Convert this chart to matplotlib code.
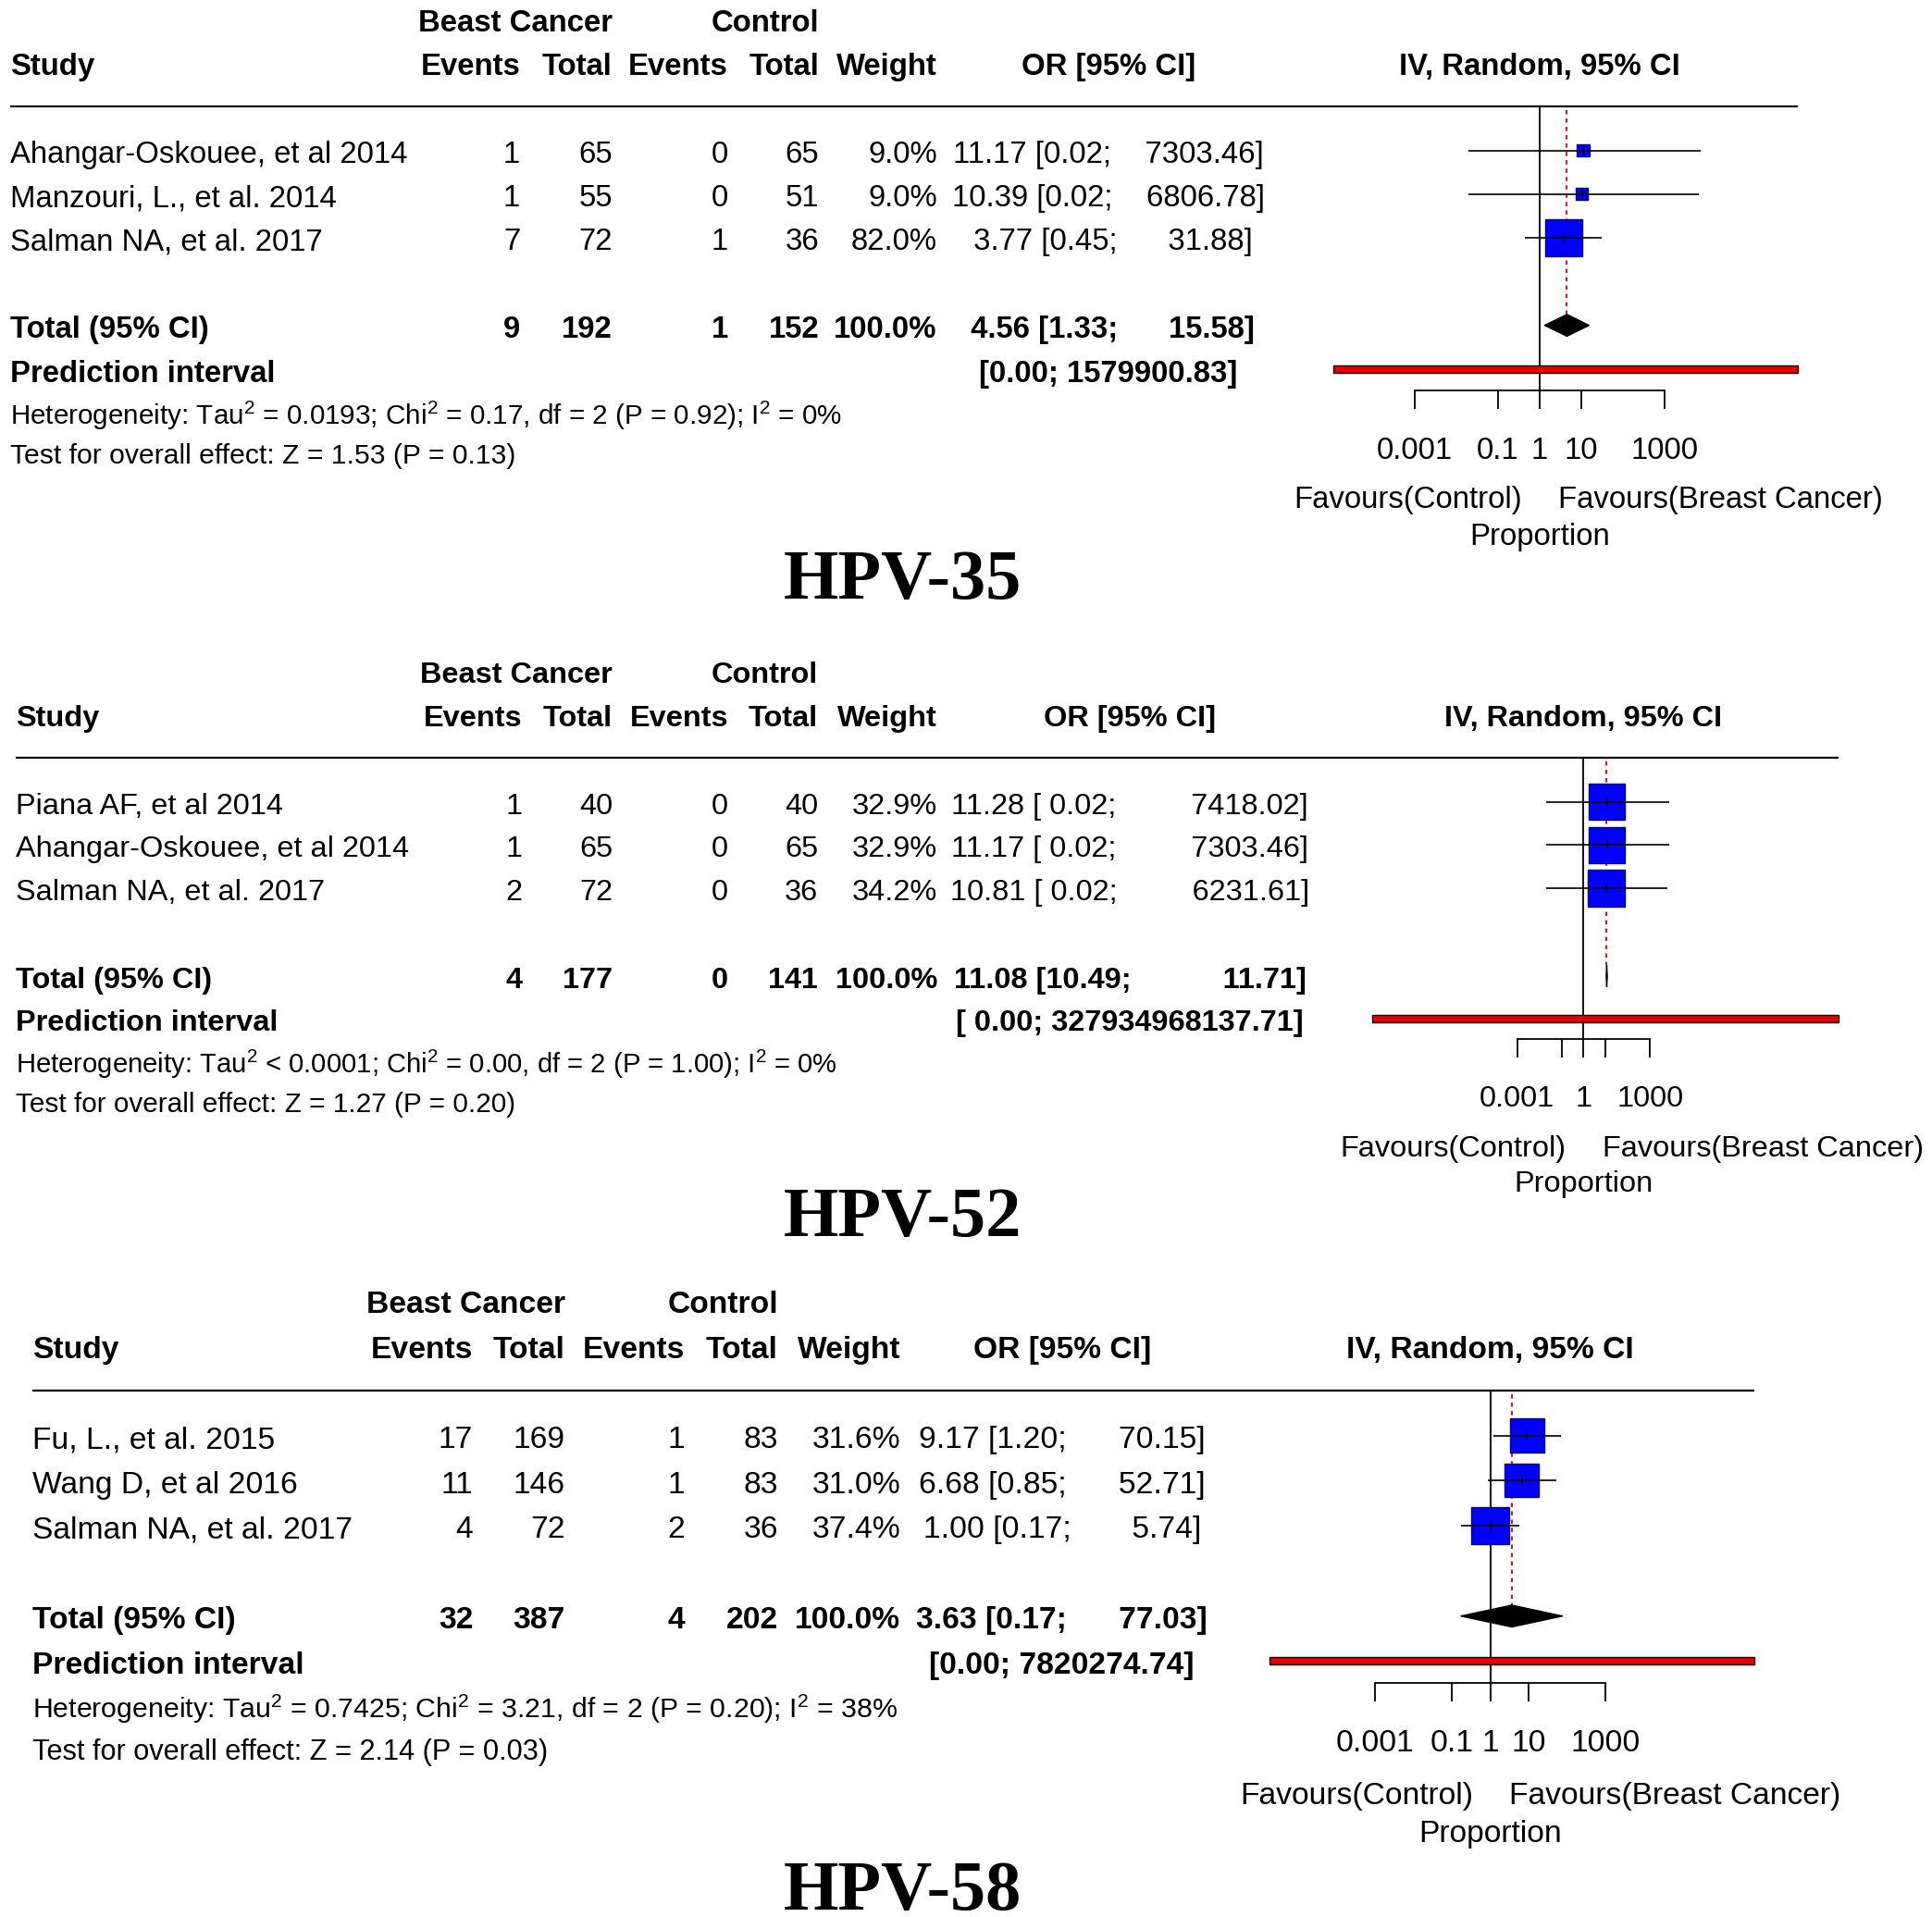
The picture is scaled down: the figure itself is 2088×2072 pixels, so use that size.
import numpy as np
import matplotlib.pyplot as plt

plt.rcParams['font.family'] = ['Liberation Sans', 'DejaVu Sans']
plt.rcParams['mathtext.fontset'] = 'custom'
plt.rcParams['mathtext.rm'] = 'Liberation Sans'
plt.rcParams['mathtext.it'] = 'Liberation Sans:italic'
plt.rcParams['mathtext.bf'] = 'Liberation Sans:bold'

# ---------------- data ----------------
# HPV-35
hpv35_studies = ["Ahangar-Oskouee, et al 2014", "Manzouri, L., et al. 2014", "Salman NA, et al. 2017"]
hpv35_bc_events = [1, 1, 7]
hpv35_bc_total = [65, 55, 72]
hpv35_ct_events = [0, 0, 1]
hpv35_ct_total = [65, 51, 36]
hpv35_weight = [9.0, 9.0, 82.0]
hpv35_or = [11.17, 10.39, 3.77]
hpv35_lower = [0.02, 0.02, 0.45]
hpv35_upper = [7303.46, 6806.78, 31.88]
hpv35_pooled = [4.56, 1.33, 15.58]          # OR, lower, upper
hpv35_pred = [1.17e-5, 1579900.83]
hpv35_het = ["= 0.0193", "0.17", "2", "0.92", "0%"]
hpv35_test = ["1.53", "0.13"]

# HPV-52
hpv52_studies = ["Piana AF, et al 2014", "Ahangar-Oskouee, et al 2014", "Salman NA, et al. 2017"]
hpv52_bc_events = [1, 1, 2]
hpv52_bc_total = [40, 65, 72]
hpv52_ct_events = [0, 0, 0]
hpv52_ct_total = [40, 65, 36]
hpv52_weight = [32.9, 32.9, 34.2]
hpv52_or = [11.28, 11.17, 10.81]
hpv52_lower = [0.02, 0.02, 0.02]
hpv52_upper = [7418.02, 7303.46, 6231.61]
hpv52_pooled = [11.08, 10.49, 11.71]
hpv52_pred = [2.8e-10, 327934968137.71]
hpv52_het = ["< 0.0001", "0.00", "2", "1.00", "0%"]
hpv52_test = ["1.27", "0.20"]

# HPV-58
hpv58_studies = ["Fu, L., et al. 2015", "Wang D, et al 2016", "Salman NA, et al. 2017"]
hpv58_bc_events = [17, 11, 4]
hpv58_bc_total = [169, 146, 72]
hpv58_ct_events = [1, 1, 2]
hpv58_ct_total = [83, 83, 36]
hpv58_weight = [31.6, 31.0, 37.4]
hpv58_or = [9.17, 6.68, 1.00]
hpv58_lower = [1.20, 0.85, 0.17]
hpv58_upper = [70.15, 52.71, 5.74]
hpv58_pooled = [3.63, 0.17, 77.03]
hpv58_pred = [1.75e-6, 7820274.74]
hpv58_het = ["= 0.7425", "3.21", "2", "0.20", "38%"]
hpv58_test = ["2.14", "0.03"]

tick_values = [1e-3, 1e-1, 1, 10, 1e3]
tick_labels_full = ["0.001", "0.1", "1", "10", "1000"]
tick_labels_short = ["0.001", "", "1", "", "1000"]

panels = [
    dict(title="HPV-35", studies=hpv35_studies, e1=hpv35_bc_events, n1=hpv35_bc_total,
         e2=hpv35_ct_events, n2=hpv35_ct_total, w=hpv35_weight, est=hpv35_or,
         lo=hpv35_lower, hi=hpv35_upper, pooled=hpv35_pooled, pred=hpv35_pred,
         het=hpv35_het, test=hpv35_test, ticks=tick_labels_full),
    dict(title="HPV-52", studies=hpv52_studies, e1=hpv52_bc_events, n1=hpv52_bc_total,
         e2=hpv52_ct_events, n2=hpv52_ct_total, w=hpv52_weight, est=hpv52_or,
         lo=hpv52_lower, hi=hpv52_upper, pooled=hpv52_pooled, pred=hpv52_pred,
         het=hpv52_het, test=hpv52_test, ticks=tick_labels_short),
    dict(title="HPV-58", studies=hpv58_studies, e1=hpv58_bc_events, n1=hpv58_bc_total,
         e2=hpv58_ct_events, n2=hpv58_ct_total, w=hpv58_weight, est=hpv58_or,
         lo=hpv58_lower, hi=hpv58_upper, pooled=hpv58_pooled, pred=hpv58_pred,
         het=hpv58_het, test=hpv58_test, ticks=tick_labels_full),
]

# ---------------- layout (page units, 1560 x 1548) ----------------
W, H = 1560.0, 1548.0
PT = 2088.0 / W * 0.72      # page unit -> points

layouts = [
    dict(fs=23.7, x_study=8.1, x_ev1=420, x_n1=494.4, x_ev2=588, x_n2=661.5, x_w=756.7,
         x_or=895, x_ref=1243, decade=33.67, y_group=16.7, y_head=51.8, y_line=86.2,
         y_rows=[121.5, 156.7, 191.8], y_total=262.7, y_pred=298.1, y_het=333,
         y_test=366.3, y_axis=315.3, y_fav=401, y_prop=430.8, y_title=463.7),
    dict(fs=23.4, x_study=13, x_ev1=422, x_n1=494.7, x_ev2=588, x_n2=660.5, x_w=757,
         x_or=912.5, x_ref=1278.7, decade=17.87, y_group=543.1, y_head=578.2, y_line=611.8,
         y_rows=[647.5, 682.4, 717.2], y_total=788.2, y_pred=822.5, y_het=856.4,
         y_test=889.8, y_axis=839.3, y_fav=925, y_prop=953.8, y_title=978.7),
    dict(fs=24.2, x_study=26.3, x_ev1=382, x_n1=456.3, x_ev2=552.7, x_n2=628.2, x_w=727.1,
         x_or=857.5, x_ref=1203.3, decade=30.97, y_group=1051.2, y_head=1087.5, y_line=1122.7,
         y_rows=[1159.3, 1195.4, 1231.7], y_total=1305, y_pred=1341, y_het=1376.9,
         y_test=1412.3, y_axis=1359, y_fav=1448, y_prop=1478.5, y_title=1522),
]

fig = plt.figure(figsize=(20.88, 20.72), dpi=100)
fig.patch.set_facecolor('white')
bg = fig.add_axes([0, 0, 1, 1])
bg.set_xlim(0, W)
bg.set_ylim(H, 0)
bg.axis('off')


def fmt(v):
    return f"{v:.2f}"


def txt(x, y, s, ha, fs, bold=False, **kw):
    bg.text(x, y, s, ha=ha, va='center_baseline', fontsize=fs,
            fontweight='bold' if bold else 'normal', **kw)


for d, L in zip(panels, layouts):
    fs = L['fs']
    dy = 1.2   # text sits a touch lower than the marks

    # column headers
    txt(L['x_n1'], L['y_group'], "Beast Cancer", 'right', fs, True)
    txt(L['x_n2'], L['y_group'], "Control", 'right', fs, True)
    txt(L['x_study'], L['y_head'], "Study", 'left', fs, True)
    txt(L['x_ev1'], L['y_head'], "Events", 'right', fs, True)
    txt(L['x_n1'], L['y_head'], "Total", 'right', fs, True)
    txt(L['x_ev2'], L['y_head'], "Events", 'right', fs, True)
    txt(L['x_n2'], L['y_head'], "Total", 'right', fs, True)
    txt(L['x_w'], L['y_head'], "Weight", 'right', fs, True)
    txt(L['x_or'], L['y_head'], "OR [95% CI]", 'center', fs, True)
    txt(L['x_ref'], L['y_head'], "IV, Random, 95% CI", 'center', fs, True)

    # padded OR strings, as the meta package formats them
    est_w = max(len(fmt(v)) for v in d['est'] + [d['pooled'][0]])
    lo_w = max(len(fmt(v)) for v in d['lo'] + [d['pooled'][1], d['pred'][0]])
    hi_w = max(len(fmt(v)) for v in d['hi'] + [d['pooled'][2], d['pred'][1]])

    def ci_str(e, lo, hi):
        return f"{fmt(e):>{est_w}} [{fmt(lo):>{lo_w}}; {fmt(hi):>{hi_w}}]"

    for i, y in enumerate(L['y_rows']):
        yt = y + dy
        txt(L['x_study'], yt, d['studies'][i], 'left', fs)
        txt(L['x_ev1'], yt, str(d['e1'][i]), 'right', fs)
        txt(L['x_n1'], yt, str(d['n1'][i]), 'right', fs)
        txt(L['x_ev2'], yt, str(d['e2'][i]), 'right', fs)
        txt(L['x_n2'], yt, str(d['n2'][i]), 'right', fs)
        txt(L['x_w'], yt, f"{d['w'][i]:.1f}%", 'right', fs)
        txt(L['x_or'], yt, ci_str(d['est'][i], d['lo'][i], d['hi'][i]), 'center', fs)

    yt = L['y_total'] + dy
    txt(L['x_study'], yt, "Total (95% CI)", 'left', fs, True)
    txt(L['x_ev1'], yt, str(sum(d['e1'])), 'right', fs, True)
    txt(L['x_n1'], yt, str(sum(d['n1'])), 'right', fs, True)
    txt(L['x_ev2'], yt, str(sum(d['e2'])), 'right', fs, True)
    txt(L['x_n2'], yt, str(sum(d['n2'])), 'right', fs, True)
    txt(L['x_w'], yt, f"{sum(d['w']):.1f}%", 'right', fs, True)
    txt(L['x_or'], yt, ci_str(*d['pooled']), 'center', fs, True)

    yt = L['y_pred'] + dy
    txt(L['x_study'], yt, "Prediction interval", 'left', fs, True)
    txt(L['x_or'], yt, f"[{fmt(d['pred'][0]):>{lo_w}}; {fmt(d['pred'][1]):>{hi_w}}]",
        'center', fs, True)

    tau, chi, df, p, i2 = d['het']
    txt(L['x_study'], L['y_het'],
        f"Heterogeneity: Tau$^2$ {tau}; Chi$^2$ = {chi}, df = {df} (P = {p}); I$^2$ = {i2}",
        'left', fs * 0.90)
    txt(L['x_study'], L['y_test'],
        f"Test for overall effect: Z = {d['test'][0]} (P = {d['test'][1]})", 'left', fs * 0.915)

    # labels under the forest axis
    txt(L['x_ref'] - 14, L['y_fav'], "Favours(Control)", 'right', fs)
    txt(L['x_ref'] + 15, L['y_fav'], "Favours(Breast Cancer)", 'left', fs)
    txt(L['x_ref'], L['y_prop'], "Proportion", 'center', fs)

    bg.text(729, L['y_title'], d['title'], ha='center', va='center_baseline',
            fontsize=55, fontweight='bold', family='Liberation Serif')

    # ---------- forest axes ----------
    xl = L['x_ref'] + L['decade'] * np.log10(d['pred'][0])
    xr = L['x_ref'] + L['decade'] * np.log10(d['pred'][1])
    bg.plot([L['x_study'], xr], [L['y_line']] * 2, color='black', lw=1.6,
            solid_capstyle='butt')

    y_top = L['y_line'] - 2
    y_bot = L['y_axis'] + 40
    ax = fig.add_axes([xl / W, 1 - y_bot / H, (xr - xl) / W, (y_bot - y_top) / H])
    ax.set_xscale('log')
    ax.set_xlim(d['pred'][0], d['pred'][1])
    ax.set_ylim(y_bot, y_top)
    ax.patch.set_alpha(0)
    for s in ['top', 'left', 'right']:
        ax.spines[s].set_visible(False)
    ax.spines['bottom'].set_position(('data', L['y_axis']))
    ax.spines['bottom'].set_bounds(tick_values[0], tick_values[-1])
    ax.spines['bottom'].set_linewidth(1.3)
    ax.set_yticks([])
    ax.set_xticks(tick_values)
    ax.set_xticklabels(d['ticks'])
    ax.xaxis.set_minor_locator(plt.NullLocator())
    ax.tick_params(axis='x', direction='out', length=14.7, width=1.3,
                   labelsize=fs, pad=21)

    # reference line at 1
    ax.plot([1, 1], [L['y_line'], L['y_axis']], color='black', lw=1.3, clip_on=False)

    # pooled estimate dashed line
    ax.plot([d['pooled'][0]] * 2, [L['y_line'] + 3, L['y_total'] - 8.8],
            color='#CC0000', lw=1.3, linestyle=(0, (2.5, 2.5)), clip_on=False)

    # study squares and CIs
    wmax = max(d['w'])
    sides = [30 * np.sqrt(w / wmax) * PT for w in d['w']]
    ax.scatter(d['est'], L['y_rows'], s=[sd ** 2 for sd in sides], marker='s',
               color='#0000FF', edgecolors='#00007A', linewidths=1.0, zorder=3,
               clip_on=False)
    ax.hlines(L['y_rows'], d['lo'], d['hi'], color='black', lw=1.2, zorder=4,
              clip_on=False)
    ax.plot(d['est'], L['y_rows'], linestyle='none', marker='|', markersize=7.5,
            mew=1.1, color='black', zorder=5, clip_on=False)

    # pooled diamond
    e, lo, hi = d['pooled']
    yd = L['y_total']
    ax.fill([lo, e, hi, e], [yd, yd - 8.8, yd, yd + 8.8], facecolor='black',
            edgecolor='black', lw=1.0, zorder=4, clip_on=False)

    # prediction interval bar
    yp = L['y_pred']
    plo, phi = d['pred']
    ax.fill([plo, phi, phi, plo], [yp - 3.3, yp - 3.3, yp + 3.3, yp + 3.3],
            facecolor='#E80000', edgecolor='black', lw=1.0, zorder=4, clip_on=False)

fig.savefig('out.png', dpi=100, facecolor='white')
